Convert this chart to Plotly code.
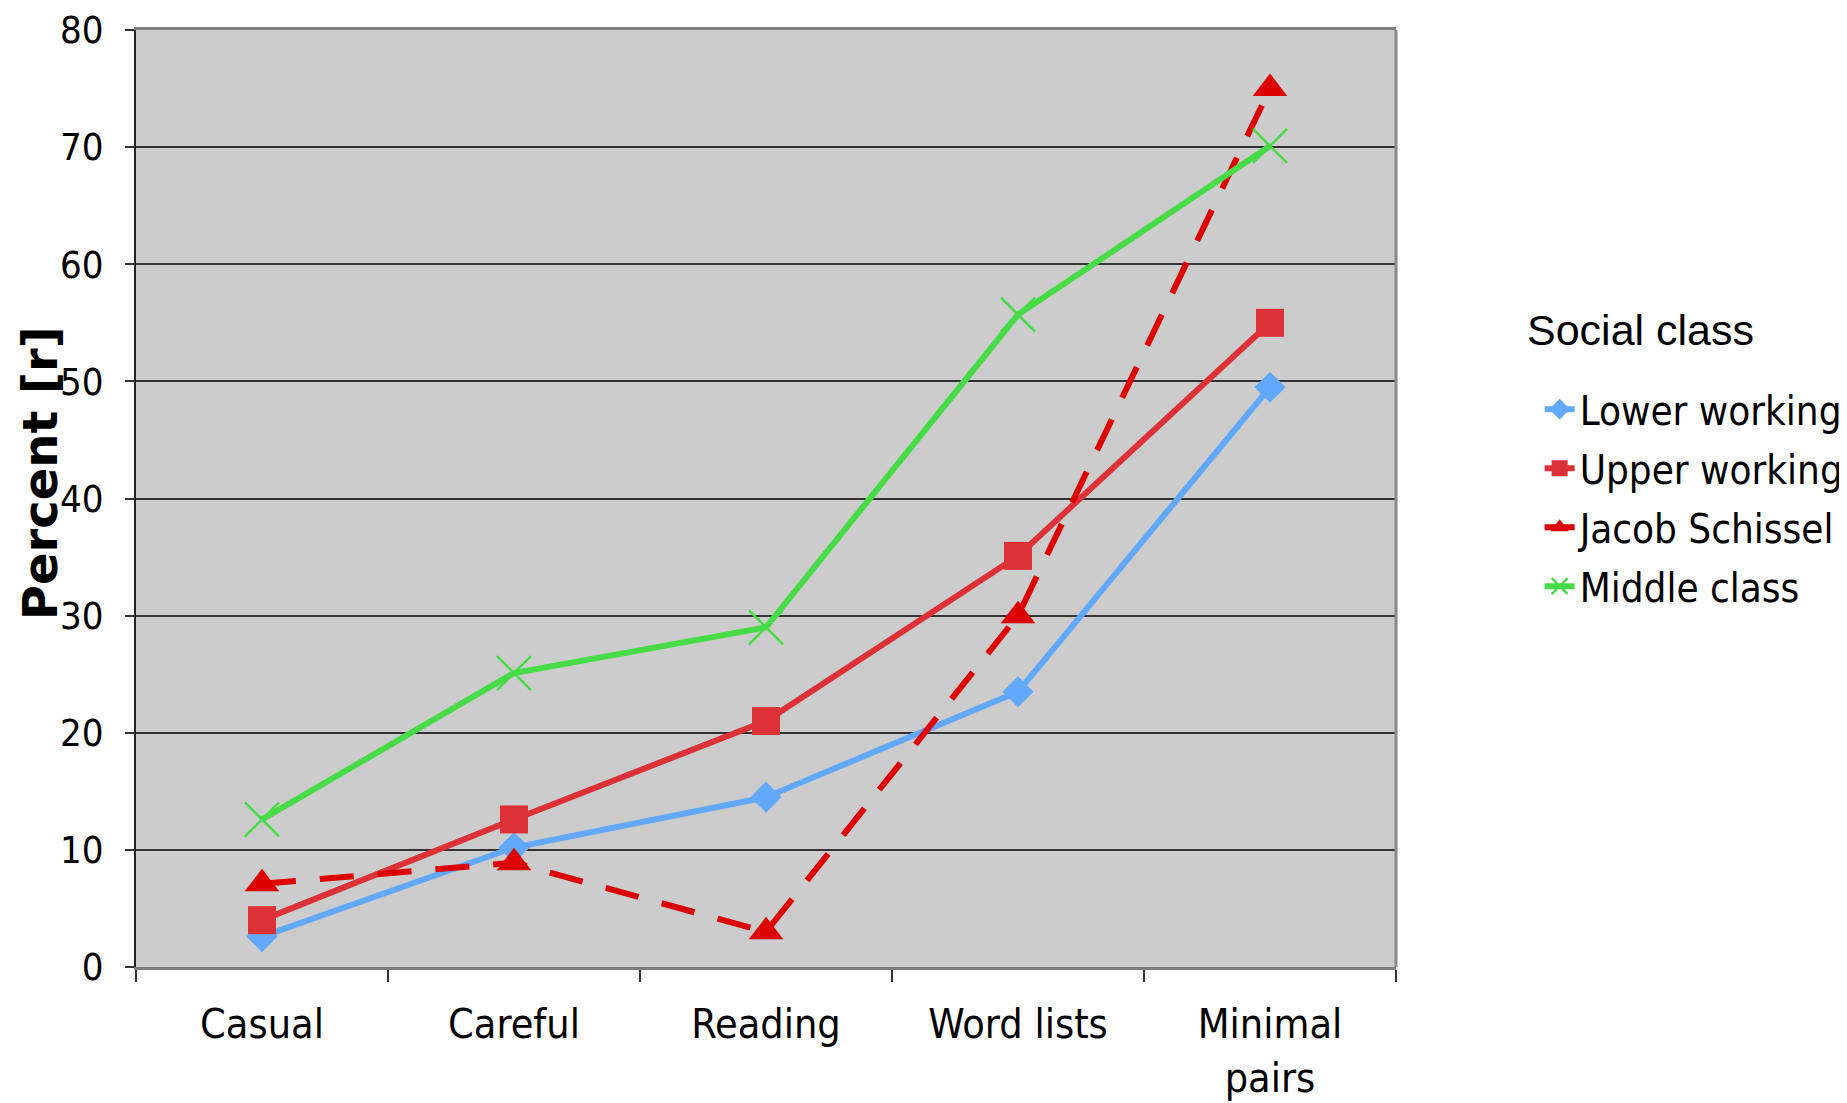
import plotly.graph_objects as go

categories = ["Casual", "Careful", "Reading", "Word lists", "Minimal pairs"]
tick_labels = ["Casual", "Careful", "Reading", "Word lists", "Minimal<br>pairs"]

lower_working = [2.6, 10.2, 14.5, 23.5, 49.5]
upper_working = [4.0, 12.6, 21.0, 35.1, 55.0]
jacob_schissel = [7.1, 8.9, 3.0, 30.0, 75.0]
middle_class = [12.6, 25.1, 29.0, 55.7, 70.1]

y_ticks = [0, 10, 20, 30, 40, 50, 60, 70, 80]

FONT = "Tahoma, 'DejaVu Sans Condensed', 'DejaVu Sans', sans-serif"

series = [
    ("Lower working", lower_working, "#63a9fb", "diamond", 24, "solid", 6),
    ("Upper working", upper_working, "#dc3136", "square", 28, "solid", 6),
    ("Jacob Schissel", jacob_schissel, "#dd0000", "triangle-up", 30, "34px,24px", 6),
    ("Middle class", middle_class, "#47dc47", "x-thin", 34, "solid", 6),
]

fig = go.Figure()
for i, (name, vals, color, sym, size, dash, w) in enumerate(series):
    marker = dict(symbol=sym, size=size, color=color)
    if sym == "x-thin":
        marker["line"] = dict(color=color, width=2.5)
    else:
        marker["line"] = dict(width=0)
    fig.add_trace(go.Scatter(
        x=categories, y=vals, name=name, mode="lines+markers",
        line=dict(color=color, width=w, dash=dash),
        marker=marker, legendgroup=f"g{i}",
    ))

fig.update_layout(
    width=1839, height=1095,
    margin=dict(l=128, r=451, t=22, b=136, autoexpand=False),
    paper_bgcolor="white",
    plot_bgcolor="#cccccc",
    font=dict(family=FONT, color="black", size=38),
    showlegend=True,
    legend=dict(
        x=1.114, y=0.630, xanchor="left", yanchor="top",
        font=dict(family=FONT, size=40, color="black"),
        tracegroupgap=4,
        bgcolor="rgba(0,0,0,0)",
    ),
    annotations=[
        dict(
            text="Social class", xref="paper", yref="paper", x=1.1944, y=0.680,
            xanchor="center", yanchor="middle", showarrow=False,
            font=dict(family="'Liberation Sans', Arial, sans-serif", size=43, color="black"),
        ),
        dict(
            text="<b>Percent [r]</b>", xref="paper", yref="paper", x=-0.0762, y=0.527,
            xanchor="center", yanchor="middle", showarrow=False, textangle=-90,
            font=dict(family="'DejaVu Sans', Verdana, sans-serif", size=48, color="black"),
        ),
    ],
)

fig.update_xaxes(
    type="category", range=[-0.5, 4.5], automargin=False,
    categoryorder="array", categoryarray=categories,
    tickvals=categories, ticktext=tick_labels,
    tickson="boundaries", ticks="outside", ticklen=12, tickwidth=2, tickcolor="#333",
    showline=True, linecolor="#7f7f7f", linewidth=3, mirror=True,
    showgrid=False, zeroline=False,
    tickfont=dict(family=FONT, size=41),
    ticklabelstandoff=19,
)
fig.update_yaxes(
    range=[0, 80], tickvals=y_ticks, automargin=False,
    ticks="outside", ticklen=9, tickwidth=2, tickcolor="#333",
    showline=True, linecolor="#222", linewidth=2,
    showgrid=True, gridcolor="#333333", gridwidth=2,
    zeroline=False,
    tickfont=dict(family=FONT, size=38),
    ticklabelstandoff=14,
)

# right border of plot area
fig.add_shape(type="line", xref="paper", yref="paper", x0=1, x1=1, y0=0, y1=1,
              line=dict(color="#8a8a8a", width=3))

fig.write_html("out.html")
